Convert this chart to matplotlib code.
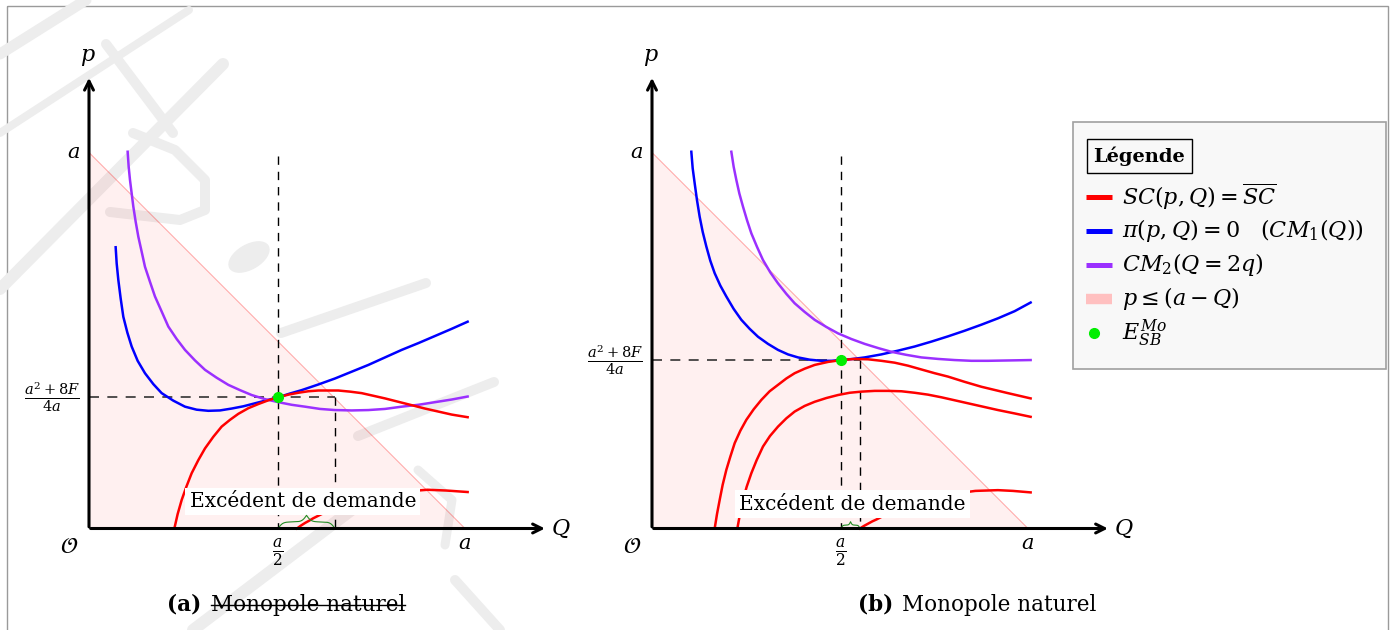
import numpy as np
import matplotlib
matplotlib.use('Agg')
import matplotlib.pyplot as plt
from matplotlib.patches import Ellipse, Rectangle

plt.rcParams['font.family'] = 'DejaVu Serif'
plt.rcParams['mathtext.fontset'] = 'dejavuserif'

W, H = 1391, 630
A = 10.0           # valeur de a
SCALE = 37.6       # pixels par unite

RED, BLUE, PURPLE = '#ff0000', '#0000ff', '#9b30ff'
GREEN = '#00ee00'

######## donnees (a = 10) ########
# demande p = a - Q
q_dem = [0.0, A]
p_dem = [A, 0.0]

# (a)
q_half_a, q_exc_a, p_star_a = 5.03, 6.54, 3.49
blue_a_q = [0.709, 0.736, 0.780, 0.842, 0.913, 1.020, 1.135, 1.294, 1.489, 1.711, 1.933, 2.243, 2.553,
            2.863, 3.174, 3.484, 3.794, 4.105, 4.415, 4.725, 5.035, 5.346, 5.656, 6.099, 6.543, 6.986,
            7.429, 7.872, 8.316, 8.759, 9.202, 9.645, 10.07]
blue_a_p = [7.48, 7.05, 6.61, 6.12, 5.63, 5.21, 4.84, 4.46, 4.13, 3.84, 3.60, 3.40, 3.24,
            3.16, 3.13, 3.14, 3.19, 3.25, 3.33, 3.41, 3.49, 3.59, 3.68, 3.83, 3.99, 4.17,
            4.35, 4.55, 4.75, 4.93, 5.12, 5.31, 5.50]
purple_a_q = [1.028, 1.055, 1.090, 1.135, 1.179, 1.241, 1.312, 1.401, 1.489, 1.622, 1.755, 1.933, 2.110,
              2.332, 2.553, 2.819, 3.085, 3.395, 3.706, 4.016, 4.326, 4.681, 5.035, 5.390, 5.745, 6.144,
              6.543, 6.986, 7.429, 7.872, 8.316, 8.759, 9.202, 9.645, 10.07]
purple_a_p = [10.02, 9.62, 9.27, 8.91, 8.56, 8.16, 7.76, 7.36, 6.96, 6.56, 6.17, 5.77, 5.37,
              5.04, 4.75, 4.47, 4.22, 4.01, 3.82, 3.68, 3.55, 3.44, 3.36, 3.29, 3.24, 3.18,
              3.15, 3.14, 3.15, 3.18, 3.24, 3.29, 3.36, 3.43, 3.51]
red_a1_q = [2.270, 2.358, 2.465, 2.589, 2.730, 2.908, 3.085, 3.307, 3.528, 3.750, 3.972, 4.238, 4.504,
            4.770, 5.035, 5.301, 5.567, 5.833, 6.099, 6.365, 6.631, 6.941, 7.252, 7.562, 7.872, 8.227,
            8.582, 8.936, 9.291, 9.645, 10.07]
red_a1_p = [0.00, 0.385, 0.76, 1.11, 1.47, 1.82, 2.13, 2.44, 2.71, 2.89, 3.05, 3.20, 3.31,
            3.41, 3.49, 3.56, 3.61, 3.65, 3.67, 3.67, 3.67, 3.64, 3.60, 3.53, 3.46, 3.37,
            3.28, 3.19, 3.11, 3.03, 2.96]
red_a2_q = [5.53, 5.64, 5.75, 5.86, 5.96, 6.18, 6.5, 6.75, 7.0, 7.25, 7.5, 7.75, 8.0, 8.5, 9.0, 9.5, 10.07]
red_a2_p = [0.0, 0.08, 0.15, 0.21, 0.27, 0.38, 0.52, 0.62, 0.70, 0.77, 0.83, 0.88, 0.92, 0.99, 1.03, 1.01, 0.97]

# (b)
q_half_b, q_exc_b, p_star_b = 5.03, 5.53, 4.48
blue_b_q = [1.046, 1.082, 1.135, 1.197, 1.268, 1.348, 1.445, 1.551, 1.667, 1.817, 1.977, 2.172, 2.376,
            2.598, 2.819, 3.085, 3.351, 3.617, 3.883, 4.193, 4.504, 4.770, 5.035, 5.346, 5.656, 6.099,
            6.543, 6.986, 7.429, 7.872, 8.316, 8.759, 9.202, 9.645, 10.07]
blue_b_p = [10.02, 9.58, 9.18, 8.73, 8.29, 7.89, 7.50, 7.12, 6.79, 6.46, 6.17, 5.84, 5.55,
            5.31, 5.10, 4.91, 4.75, 4.63, 4.55, 4.49, 4.46, 4.46, 4.48, 4.51, 4.55, 4.63,
            4.73, 4.84, 4.97, 5.11, 5.26, 5.42, 5.59, 5.78, 6.01]
purple_b_q = [2.110, 2.172, 2.243, 2.323, 2.420, 2.527, 2.642, 2.793, 2.952, 3.147, 3.351, 3.573, 3.794,
              4.060, 4.326, 4.637, 4.947, 5.301, 5.656, 6.011, 6.365, 6.755, 7.163, 7.606, 8.050, 8.493,
              8.936, 9.512, 10.07]
purple_b_p = [10.02, 9.62, 9.27, 8.91, 8.56, 8.20, 7.85, 7.49, 7.14, 6.81, 6.52, 6.24, 5.99,
              5.76, 5.55, 5.36, 5.19, 5.04, 4.91, 4.80, 4.70, 4.62, 4.55, 4.51, 4.48, 4.46,
              4.46, 4.47, 4.48]
red_b1_q = [1.667, 1.729, 1.800, 1.879, 1.977, 2.083, 2.199, 2.349, 2.509, 2.704, 2.908, 3.129, 3.351,
            3.573, 3.794, 4.060, 4.326, 4.681, 5.035, 5.390, 5.745, 6.099, 6.454, 6.809, 7.163, 7.518,
            7.872, 8.316, 8.759, 9.424, 10.07]
red_b1_p = [0.00, 0.385, 0.76, 1.16, 1.56, 1.91, 2.27, 2.60, 2.89, 3.17, 3.42, 3.65, 3.82,
            3.99, 4.13, 4.25, 4.35, 4.43, 4.48, 4.51, 4.50, 4.46, 4.41, 4.33, 4.23, 4.13,
            4.04, 3.90, 3.77, 3.61, 3.46]
red_b2_q = [2.270, 2.340, 2.420, 2.518, 2.642, 2.784, 2.952, 3.138, 3.351, 3.573, 3.794, 4.060, 4.326,
            4.637, 4.947, 5.257, 5.567, 5.922, 6.277, 6.631, 6.986, 7.340, 7.695, 8.050, 8.404, 8.803,
            9.202, 9.645, 10.07]
red_b2_p = [0.00, 0.385, 0.76, 1.11, 1.47, 1.82, 2.18, 2.46, 2.71, 2.93, 3.11, 3.26, 3.37,
            3.47, 3.55, 3.61, 3.64, 3.66, 3.66, 3.65, 3.61, 3.56, 3.49, 3.41, 3.33, 3.24,
            3.15, 3.06, 2.97]
red_b3_q = [5.53, 5.64, 5.75, 5.86, 5.97, 6.2, 6.5, 6.75, 7.0, 7.25, 7.5, 7.75, 8.0, 8.3, 8.6, 9.2, 9.6, 10.07]
red_b3_p = [0.0, 0.07, 0.13, 0.19, 0.24, 0.36, 0.50, 0.60, 0.68, 0.75, 0.82, 0.87, 0.92, 0.96, 1.00, 1.02, 1.00, 0.96]

legend_labels = [r'$SC(p,Q) = \overline{SC}$',
                 r'$\pi(p,Q) = 0 \quad (CM_1(Q))$',
                 r'$CM_2(Q = 2q)$',
                 r'$p \leq (a - Q)$',
                 r'$E_{SB}^{Mo}$']

# filigrane (pixels)
watermark = [([(0, 54), (86, 0)], 11),
             ([(0, 133), (189, 10)], 8),
             ([(0, 289), (223, 64)], 12),
             ([(106, 44), (173, 133)], 10),
             ([(133, 133), (175, 150), (205, 180), (205, 210), (180, 220), (110, 212)], 10),
             ([(281, 333), (426, 283)], 10),
             ([(358, 436), (494, 382)], 10),
             ([(418, 470), (452, 500), (445, 545)], 9),
             ([(193, 630), (362, 502)], 12),
             ([(455, 580), (500, 630)], 10)]
WM = '#ededed'


fig = plt.figure(figsize=(W / 100, H / 100), dpi=100)

### fond : filigrane + cadre
bg = fig.add_axes([0, 0, 1, 1])
bg.set_xlim(0, W)
bg.set_ylim(H, 0)
bg.axis('off')
for pts, lw in watermark:
    xs, ys = zip(*pts)
    bg.plot(xs, ys, color=WM, lw=lw * 0.72, solid_capstyle='round', solid_joinstyle='round')
bg.add_patch(Ellipse((249, 257), 44, 24, angle=-30, color=WM))
bg.add_patch(Rectangle((7, 6), 1381, 630, fill=False, edgecolor='#9a9a9a', lw=1))


def make_axes(ox, oy=528.5):
    left, right, top, bottom = ox - 79, ox + 501, 10, 590
    ax = fig.add_axes([left / W, 1 - bottom / H, (right - left) / W, (bottom - top) / H])
    ax.set_xlim((left - ox) / SCALE, (right - ox) / SCALE)
    ax.set_ylim((oy - bottom) / SCALE, (oy - top) / SCALE)
    ax.axis('off')
    ax.patch.set_alpha(0)
    return ax


def brace(ax, x0, x1, h):
    # accolade horizontale posee sur l'axe
    u = np.linspace(0, 0.5, 101)
    beta = 25
    yh = 1 / (1 + np.exp(-beta * u)) + 1 / (1 + np.exp(-beta * (u - 0.5))) - 0.5
    yy = np.concatenate((yh, yh[-2::-1]))
    xx = np.linspace(x0, x1, len(yy))
    ax.plot(xx, h * yy, color='#228b22', lw=0.8, zorder=7)


def panel(ax, curves, q_half, q_exc, p_star, box_xy, brace_h):
    ax.fill_between(q_dem, 0, p_dem, color='red', alpha=0.06, lw=0, zorder=1)
    ax.plot(q_dem, p_dem, color='red', alpha=0.3, lw=0.8, zorder=1)
    dash = dict(color='black', lw=1.0, dashes=(6, 5), zorder=3)
    ax.plot([q_half, q_half], [9.9, 0], **dash)
    ax.plot([q_exc, q_exc], [p_star, 0], **dash)
    ax.plot([0, q_exc], [p_star, p_star], color='#333333', lw=1.2, dashes=(6, 5), zorder=3)
    for q, p, c in curves:
        ax.plot(q, p, color=c, lw=1.8, zorder=4, solid_joinstyle='round')
    ax.plot([q_half], [p_star], 'o', color=GREEN, ms=7, zorder=6)
    # axes
    ax.annotate('', xy=(12.2, 0), xytext=(-0.03, 0),
                arrowprops=dict(arrowstyle='->', lw=2.2, color='black', mutation_scale=16), zorder=8)
    ax.annotate('', xy=(0, 12.06), xytext=(0, -0.03),
                arrowprops=dict(arrowstyle='->', lw=2.2, color='black', mutation_scale=16), zorder=8)
    ax.text(-0.03, 12.54, r'$p$', fontsize=16, ha='center', va='center')
    ax.text(12.55, 0.0, r'$Q$', fontsize=16, ha='center', va='center')
    ax.text(-0.53, -0.49, r'$\mathcal{O}$', fontsize=16, ha='center', va='center')
    ax.text(-0.25, A, r'$a$', fontsize=15, ha='right', va='center')
    ax.text(A, -0.41, r'$a$', fontsize=15, ha='center', va='center')
    ax.text(q_half, -0.62, r'$\frac{a}{2}$', fontsize=16, ha='center', va='center')
    ax.text(-0.25, p_star, r'$\frac{a^2+8F}{4a}$', fontsize=15, ha='right', va='center')
    ax.text(box_xy[0], box_xy[1], 'Excédent de demande', fontsize=14.5, ha='center', va='center',
            bbox=dict(facecolor='white', edgecolor='none', pad=3), zorder=6)
    brace(ax, q_half, q_exc, brace_h)


ax_a = make_axes(89)
panel(ax_a, [(blue_a_q, blue_a_p, BLUE), (purple_a_q, purple_a_p, PURPLE),
             (red_a1_q, red_a1_p, RED), (red_a2_q, red_a2_p, RED)],
      q_half_a, q_exc_a, p_star_a, (5.69, 0.72), 0.35)

ax_b = make_axes(652)
panel(ax_b, [(blue_b_q, blue_b_p, BLUE), (purple_b_q, purple_b_p, PURPLE),
             (red_b1_q, red_b1_p, RED), (red_b2_q, red_b2_p, RED), (red_b3_q, red_b3_p, RED)],
      q_half_b, q_exc_b, p_star_b, (5.33, 0.65), 0.18)

### legende + sous-titres
ov = fig.add_axes([0, 0, 1, 1])
ov.set_xlim(0, W)
ov.set_ylim(H, 0)
ov.axis('off')
ov.patch.set_alpha(0)

ov.add_patch(Rectangle((1073, 122), 313, 247, facecolor='#f8f8f8', edgecolor='#a0a0a0', lw=1.2))
ov.text(1139.5, 156, 'Légende', fontsize=14, fontweight='bold', ha='center', va='center',
        bbox=dict(facecolor='#f8f8f8', edgecolor='black', lw=1, boxstyle='square,pad=0.35'))
leg_colors = [RED, BLUE, PURPLE, '#ffc0c0', GREEN]
for i, (lab, c) in enumerate(zip(legend_labels, leg_colors)):
    y = 197 + 34 * i
    if i == 4:
        ov.plot([1094], [y], 'o', color=c, ms=7)
    else:
        ov.plot([1086, 1112], [y, y], color=c, lw=7.5 if i == 3 else 3.6, solid_capstyle='butt')
    ov.text(1122, y, lab, fontsize=16, ha='left', va='center')

CAP_FS = 15.5
caps = []
for xl, xr, tag in [(201, 211, '(a)'), (893, 902, '(b)')]:
    ov.text(xl, 611, tag, fontsize=CAP_FS, fontweight='bold', ha='right', va='baseline')
    caps.append(ov.text(xr, 611, 'Monopole naturel', fontsize=CAP_FS, ha='left', va='baseline'))

fig.canvas.draw()
r = fig.canvas.get_renderer()
bb = caps[0].get_window_extent(r)
x0 = ov.transData.inverted().transform((bb.x0, 0))[0]
x1 = ov.transData.inverted().transform((bb.x1, 0))[0]
y_strike = 611 - 0.28 * CAP_FS * 100 / 72
ov.plot([x0, x1], [y_strike, y_strike], color='black', lw=1.0)

fig.savefig('out.png', dpi=100)
